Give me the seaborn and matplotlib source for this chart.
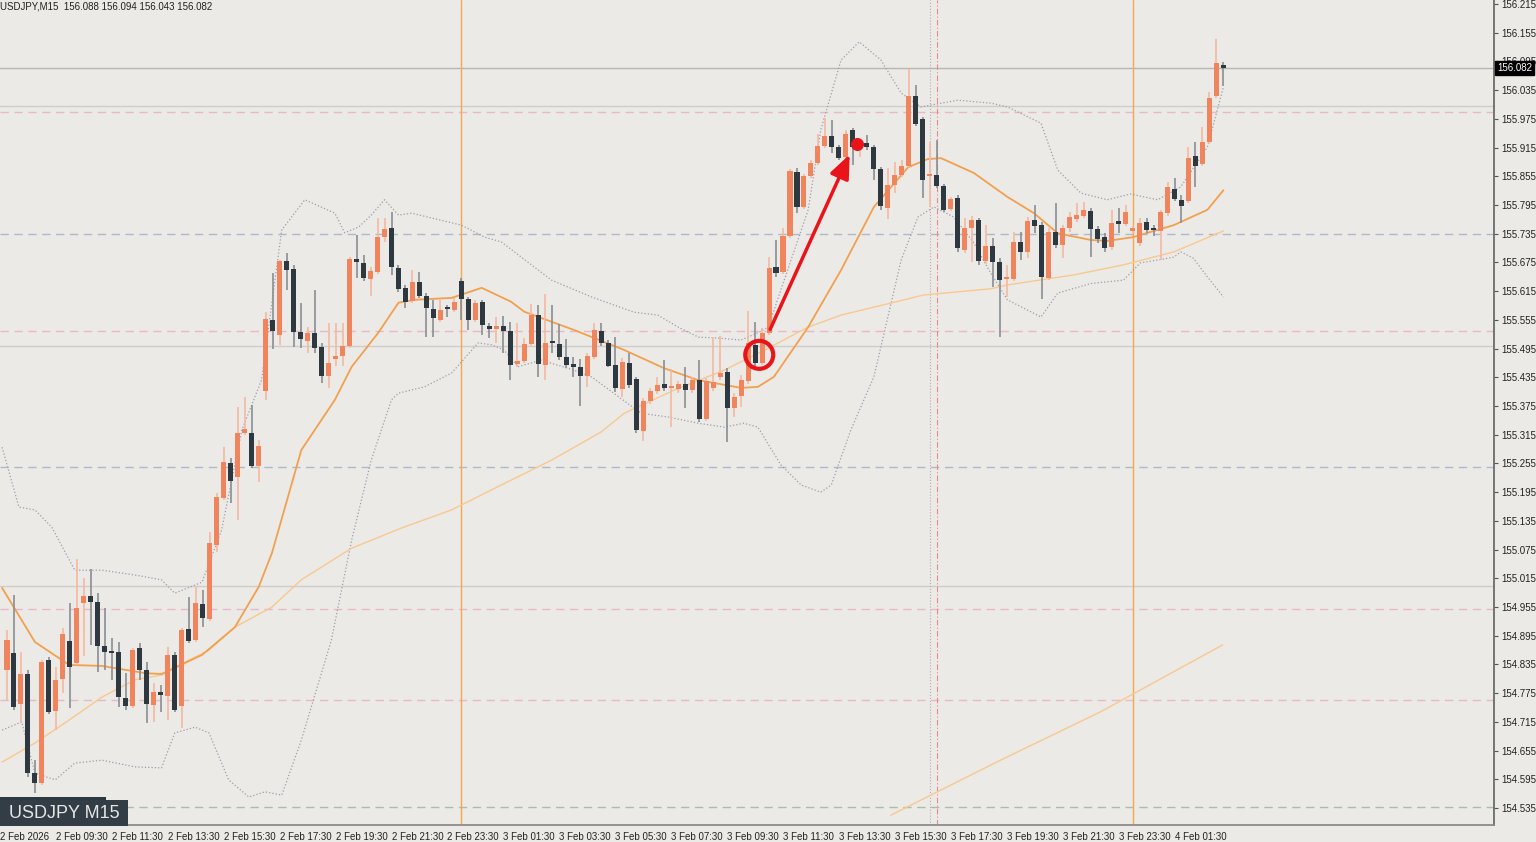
"""
USDJPY M15 candlestick chart with moving averages, Bollinger bands and levels.
"""

import numpy as np
import pandas as pd
import matplotlib
matplotlib.use("Agg")
import matplotlib.pyplot as plt
from matplotlib.patches import Ellipse, Rectangle
import seaborn as sns

# --- candles (index 0 = 2 Feb 07:45, 15 min each) ---
opens = [154.823, 154.859, 154.753, 154.815, 154.608, 154.587, 154.844, 154.738, 154.805, 154.884,
         154.838, 154.964, 154.978, 154.966, 154.873, 154.861, 154.861, 154.765, 154.748, 154.869,
         154.823, 154.750, 154.777, 154.769, 154.855, 154.748, 154.909, 154.886, 154.962, 154.930,
         155.085, 155.183, 155.256, 155.227, 155.319, 155.319, 155.250, 155.406, 155.555, 155.524,
         155.678, 155.661, 155.530, 155.511, 155.528, 155.498, 155.438, 155.473, 155.480, 155.500,
         155.682, 155.674, 155.640, 155.655, 155.728, 155.747, 155.663, 155.622, 155.595, 155.634,
         155.605, 155.578, 155.555, 155.578, 155.576, 155.636, 155.599, 155.555, 155.593, 155.542,
         155.536, 155.542, 155.532, 155.463, 155.469, 155.505, 155.565, 155.461, 155.507, 155.505,
         155.477, 155.463, 155.457, 155.438, 155.477, 155.532, 155.507, 155.461, 155.411, 155.465,
         155.431, 155.323, 155.386, 155.406, 155.421, 155.413, 155.411, 155.421, 155.408, 155.429,
         155.348, 155.413, 155.436, 155.446, 155.371, 155.396, 155.427, 155.503, 155.465, 155.528,
         155.665, 155.655, 155.730, 155.864, 155.791, 155.856, 155.883, 155.918, 155.939, 155.916,
         155.895, 155.952, 155.916, 155.925, 155.916, 155.870, 155.789, 155.837, 155.858, 155.877,
         156.023, 155.975, 155.856, 155.858, 155.835, 155.787, 155.810, 155.701, 155.747, 155.764,
         155.678, 155.709, 155.676, 155.640, 155.640, 155.718, 155.697, 155.764, 155.753, 155.643,
         155.739, 155.711, 155.747, 155.766, 155.772, 155.783, 155.745, 155.728, 155.707, 155.762,
         155.755, 155.741, 155.716, 155.759, 155.743, 155.741, 155.778, 155.828, 155.806, 155.803,
         155.897, 155.881, 155.927, 156.023, 156.088]
highs = [154.907, 154.980, 154.861, 154.823, 154.635, 154.844, 154.850, 154.830, 154.911, 154.964,
         155.055, 155.016, 155.035, 154.985, 154.953, 154.890, 154.882, 154.817, 154.869, 154.880,
         154.840, 154.796, 154.792, 154.871, 154.861, 154.911, 154.976, 154.997, 154.991, 155.112,
         155.193, 155.289, 155.267, 155.373, 155.394, 155.377, 155.304, 155.572, 155.653, 155.680,
         155.695, 155.670, 155.591, 155.540, 155.618, 155.507, 155.549, 155.549, 155.549, 155.686,
         155.732, 155.691, 155.665, 155.768, 155.768, 155.780, 155.670, 155.628, 155.659, 155.655,
         155.611, 155.597, 155.597, 155.586, 155.601, 155.643, 155.603, 155.597, 155.597, 155.549,
         155.561, 155.563, 155.551, 155.549, 155.517, 155.588, 155.586, 155.609, 155.586, 155.547,
         155.515, 155.477, 155.473, 155.486, 155.549, 155.549, 155.513, 155.519, 155.475, 155.486,
         155.436, 155.392, 155.413, 155.436, 155.471, 155.452, 155.427, 155.457, 155.436, 155.471,
         155.434, 155.519, 155.521, 155.454, 155.402, 155.440, 155.574, 155.551, 155.538, 155.686,
         155.722, 155.747, 155.870, 155.872, 155.860, 155.889, 155.943, 155.977, 155.973, 155.920,
         155.952, 155.956, 155.931, 155.941, 155.920, 155.874, 155.872, 155.885, 155.889, 156.079,
         156.046, 155.979, 155.927, 155.931, 155.839, 155.812, 155.816, 155.768, 155.772, 155.768,
         155.753, 155.726, 155.684, 155.670, 155.739, 155.739, 155.770, 155.795, 155.759, 155.747,
         155.799, 155.753, 155.780, 155.799, 155.801, 155.789, 155.751, 155.737, 155.785, 155.789,
         155.795, 155.751, 155.768, 155.768, 155.753, 155.785, 155.843, 155.851, 155.816, 155.916,
         155.927, 155.958, 156.031, 156.142, 156.094]
lows = [154.761, 154.740, 154.715, 154.600, 154.567, 154.583, 154.732, 154.698, 154.775, 154.744,
        154.834, 154.852, 154.876, 154.819, 154.823, 154.803, 154.746, 154.740, 154.744, 154.803,
        154.713, 154.715, 154.736, 154.719, 154.736, 154.702, 154.880, 154.882, 154.913, 154.926,
        155.070, 155.179, 155.173, 155.137, 155.315, 155.246, 155.217, 155.388, 155.494, 155.503,
        155.618, 155.498, 155.496, 155.486, 155.486, 155.423, 155.413, 155.459, 155.459, 155.496,
        155.643, 155.636, 155.605, 155.651, 155.718, 155.649, 155.613, 155.580, 155.591, 155.601,
        155.519, 155.519, 155.551, 155.561, 155.572, 155.555, 155.534, 155.551, 155.524, 155.517,
        155.507, 155.486, 155.429, 155.457, 155.465, 155.500, 155.436, 155.429, 155.486, 155.471,
        155.454, 155.436, 155.375, 155.415, 155.473, 155.500, 155.457, 155.404, 155.394, 155.413,
        155.319, 155.302, 155.379, 155.400, 155.406, 155.331, 155.402, 155.371, 155.402, 155.342,
        155.344, 155.406, 155.429, 155.300, 155.352, 155.373, 155.421, 155.450, 155.461, 155.524,
        155.645, 155.651, 155.726, 155.778, 155.787, 155.851, 155.879, 155.914, 155.904, 155.889,
        155.891, 155.879, 155.895, 155.910, 155.847, 155.785, 155.766, 155.820, 155.854, 155.872,
        155.960, 155.810, 155.791, 155.831, 155.780, 155.783, 155.697, 155.695, 155.676, 155.670,
        155.672, 155.624, 155.519, 155.603, 155.636, 155.680, 155.684, 155.737, 155.599, 155.638,
        155.705, 155.684, 155.739, 155.759, 155.768, 155.686, 155.716, 155.697, 155.701, 155.737,
        155.751, 155.737, 155.709, 155.737, 155.730, 155.680, 155.772, 155.803, 155.757, 155.799,
        155.833, 155.877, 155.922, 156.019, 156.043]
closes = [154.886, 154.746, 154.815, 154.608, 154.587, 154.840, 154.736, 154.803, 154.899, 154.830,
          154.953, 154.978, 154.966, 154.873, 154.861, 154.860, 154.767, 154.748, 154.865, 154.823,
          154.753, 154.777, 154.771, 154.855, 154.740, 154.907, 154.884, 154.964, 154.932, 155.089,
          155.185, 155.258, 155.219, 155.319, 155.327, 155.250, 155.292, 155.557, 155.532, 155.678,
          155.659, 155.530, 155.515, 155.528, 155.496, 155.438, 155.465, 155.480, 155.500, 155.682,
          155.676, 155.643, 155.657, 155.728, 155.745, 155.665, 155.620, 155.593, 155.634, 155.605,
          155.580, 155.559, 155.576, 155.577, 155.593, 155.599, 155.555, 155.591, 155.544, 155.536,
          155.542, 155.532, 155.461, 155.469, 155.505, 155.565, 155.463, 155.507, 155.506, 155.477,
          155.461, 155.457, 155.438, 155.480, 155.534, 155.507, 155.459, 155.413, 155.467, 155.419,
          155.325, 155.386, 155.406, 155.419, 155.413, 155.414, 155.421, 155.408, 155.429, 155.348,
          155.427, 155.425, 155.444, 155.371, 155.394, 155.429, 155.507, 155.465, 155.528, 155.663,
          155.653, 155.730, 155.866, 155.791, 155.856, 155.883, 155.918, 155.939, 155.916, 155.893,
          155.943, 155.916, 155.925, 155.916, 155.870, 155.793, 155.837, 155.858, 155.877, 156.023,
          155.964, 155.847, 155.857, 155.835, 155.785, 155.808, 155.705, 155.747, 155.764, 155.678,
          155.709, 155.676, 155.638, 155.641, 155.718, 155.697, 155.762, 155.751, 155.645, 155.739,
          155.711, 155.747, 155.770, 155.774, 155.785, 155.745, 155.724, 155.705, 155.757, 155.755,
          155.780, 155.747, 155.757, 155.743, 155.742, 155.780, 155.833, 155.808, 155.793, 155.893,
          155.877, 155.927, 156.019, 156.092, 156.082]

# --- indicator lines (candle index, price) ---
ma_fast_x = [-0.7, 4, 8.9, 13.6, 19.7, 22.1, 27.9, 32.6, 36, 37.9, 42.1, 46.9, 49.3, 53.1, 56, 58.3,
             63.6, 67.9, 72.1, 74, 81.1, 88.3, 94, 98.9, 105, 107.4, 109.7, 114.6, 119.3, 124,
             128.9, 131.7, 133.6, 138.3, 143.1, 146.9, 150.3, 155, 157.4, 161.1, 166.9, 171.7, 174]
ma_fast_y = [154.995, 154.882, 154.834, 154.832, 154.817, 154.815, 154.855, 154.913, 154.997, 155.068,
             155.283, 155.388, 155.457, 155.528, 155.591, 155.597, 155.601, 155.622, 155.593, 155.572,
             155.534, 155.492, 155.454, 155.429, 155.413, 155.415, 155.436, 155.540, 155.659, 155.791,
             155.874, 155.891, 155.893, 155.862, 155.812, 155.778, 155.736, 155.722, 155.720, 155.728,
             155.753, 155.785, 155.826]
ma_slow_x = [-0.7, 4, 8.9, 13.6, 18.3, 22.1, 26, 28.9, 32.6, 37.9, 42.1, 49.3, 56.4, 63.6, 70.7,
             77.9, 85, 88.3, 95.4, 102.6, 108.9, 114.6, 119.3, 126.4, 131.1, 140.7, 143.1, 152.6,
             159.7, 166.9, 174]
ma_slow_y = [154.631, 154.671, 154.719, 154.767, 154.803, 154.813, 154.844, 154.865, 154.913, 154.955,
             155.012, 155.078, 155.120, 155.158, 155.210, 155.262, 155.321, 155.360, 155.408, 155.450,
             155.496, 155.540, 155.565, 155.590, 155.607, 155.620, 155.628, 155.649, 155.670, 155.697,
             155.741]
ma_long_x = [126.4, 142.1, 156.4, 173.9]
ma_long_y = [154.520, 154.635, 154.736, 154.876]
bb_up_x = [-0.7, 1.7, 4, 6.4, 9.7, 13.6, 18.3, 22.1, 24, 27.9, 30.7, 33.6, 36.4, 39.3, 42.6, 46.9,
           48.3, 50.3, 52.1, 54, 56, 57.9, 60.7, 65, 68.3, 70.7, 77.9, 83.6, 89.7, 93.1, 96, 98.9,
           101.7, 105, 107.4, 108.9, 110.7, 114.6, 116.4, 119.3, 121.9, 125, 127.9, 130.7, 136,
           140.7, 143.1, 147.9, 150.3, 153.6, 157.4, 160.7, 164.6, 167.9, 171.7, 174]
bb_up_y = [155.289, 155.164, 155.158, 155.122, 155.032, 155.032, 155.022, 155.012, 154.984, 155.007,
           155.116, 155.325, 155.429, 155.743, 155.806, 155.778, 155.737, 155.749, 155.774, 155.806,
           155.774, 155.778, 155.768, 155.753, 155.728, 155.718, 155.638, 155.603, 155.571, 155.565,
           155.540, 155.519, 155.517, 155.513, 155.528, 155.540, 155.618, 155.785, 155.952, 156.098,
           156.136, 156.098, 156.029, 156.000, 156.014, 156.008, 156.000, 155.966, 155.868, 155.820,
           155.806, 155.818, 155.806, 155.833, 155.916, 156.042]
bb_lo_x = [-0.7, 2.1, 4, 6.9, 9.7, 13.6, 18.3, 22.1, 24, 26.9, 28.9, 31.7, 34.6, 36.9, 39.3, 42.1,
           46.4, 49.3, 52.1, 55, 56, 59.7, 63.6, 67.4, 69.3, 71.1, 73.1, 76.4, 81.1, 83.6, 90.7,
           94.6, 98.9, 102.6, 105.4, 107.4, 110.7, 113.6, 116.4, 117.9, 120.7, 124, 127.9, 130.3,
           132.6, 135.4, 138.3, 140.7, 143.1, 147.9, 150.3, 155, 159.7, 162.1, 166.9, 167.9, 169.7,
           171.7, 174]
bb_lo_y = [154.698, 154.715, 154.608, 154.594, 154.629, 154.635, 154.621, 154.619, 154.692, 154.704,
           154.692, 154.594, 154.558, 154.569, 154.562, 154.677, 154.886, 155.095, 155.262, 155.388,
           155.402, 155.415, 155.444, 155.507, 155.503, 155.492, 155.457, 155.471, 155.450, 155.436,
           155.360, 155.352, 155.339, 155.331, 155.339, 155.331, 155.252, 155.210, 155.195, 155.210,
           155.325, 155.436, 155.680, 155.770, 155.791, 155.770, 155.716, 155.653, 155.597, 155.561,
           155.611, 155.631, 155.638, 155.674, 155.686, 155.697, 155.684, 155.645, 155.603]

# --- horizontal levels ---
pink_levels = [155.989, 155.532, 154.951, 154.761]
blue_levels = [155.734, 155.248]
green_levels = [154.537]
gray_levels = [156.002, 155.500, 154.999]
last_price = 156.082

price_ticks = [156.215, 156.155, 156.095, 156.035, 155.975, 155.915, 155.855, 155.795, 155.735,
               155.675, 155.615, 155.555, 155.495, 155.435, 155.375, 155.315, 155.255, 155.195,
               155.135, 155.075, 155.015, 154.955, 154.895, 154.835, 154.775, 154.715, 154.655,
               154.595, 154.535]
time_tick_idx = [-1, 7, 15, 23, 31, 39, 47, 55, 63, 71, 79, 87, 95, 103, 111, 119, 127, 135, 143,
                 151, 159, 167]
time_labels = ["2 Feb 2026", "2 Feb 09:30", "2 Feb 11:30", "2 Feb 13:30", "2 Feb 15:30",
               "2 Feb 17:30", "2 Feb 19:30", "2 Feb 21:30", "2 Feb 23:30", "3 Feb 01:30",
               "3 Feb 03:30", "3 Feb 05:30", "3 Feb 07:30", "3 Feb 09:30", "3 Feb 11:30",
               "3 Feb 13:30", "3 Feb 15:30", "3 Feb 17:30", "3 Feb 19:30", "3 Feb 21:30",
               "3 Feb 23:30", "4 Feb 01:30"]
day_separators = [65, 161]

BG = "#ECEAE6"
BULL = "#F0845C"
BEAR = "#2E3841"
TICK_FONT = ["Liberation Sans", "DejaVu Sans"]

sns.set_theme(style="white")
plt.rcParams["font.family"] = ["Liberation Sans", "DejaVu Sans"]

df = pd.DataFrame({"open": opens, "high": highs, "low": lows, "close": closes})
df["idx"] = np.arange(len(df))
df["bull"] = df["close"] >= df["open"]

fig = plt.figure(figsize=(15.36, 8.42), dpi=100, facecolor=BG)
ax = fig.add_axes([0, 17 / 842, 1494 / 1536, 825 / 842])
ax.set_facecolor(BG)

# levels
for lv in pink_levels:
    ax.axhline(lv, color="#E8B8C8", lw=1, ls=(0, (6, 4)), zorder=1)
for lv in blue_levels:
    ax.axhline(lv, color="#AEB8CC", lw=1, ls=(0, (6, 4)), zorder=1)
for lv in green_levels:
    ax.axhline(lv, color="#A9BDA9", lw=1, ls=(0, (6, 4)), zorder=1)
for lv in gray_levels:
    ax.axhline(lv, color="#CFCDCA", lw=1, zorder=1)
ax.axhline(last_price, color="#B8B6B3", lw=1, zorder=1)
for d in day_separators:
    ax.axvline(d, color="#F5A84A", lw=1, zorder=1)
ax.axvline(132, color="#B0AEB4", lw=0.8, ls=":", zorder=1)
ax.axvline(133, color="#E88A8A", lw=0.8, ls=(0, (5, 2, 1, 2)), zorder=1)

# indicators
sns.lineplot(x=bb_up_x, y=bb_up_y, ax=ax, color="#9C9CAE", lw=0.9, ls=":", sort=False, estimator=None, zorder=2)
sns.lineplot(x=bb_lo_x, y=bb_lo_y, ax=ax, color="#9C9CAE", lw=0.9, ls=":", sort=False, estimator=None, zorder=2)
sns.lineplot(x=ma_slow_x, y=ma_slow_y, ax=ax, color="#F8C890", lw=1.0, sort=False, estimator=None, zorder=2)
sns.lineplot(x=ma_long_x, y=ma_long_y, ax=ax, color="#F8C890", lw=1.0, sort=False, estimator=None, zorder=2)
sns.lineplot(x=ma_fast_x, y=ma_fast_y, ax=ax, color="#F2A04E", lw=1.3, sort=False, estimator=None, zorder=2)

# candles
for bull, col, wick in [(True, BULL, "#F4B8A0"), (False, BEAR, "#8A8E92")]:
    sub = df[df["bull"] == bull]
    ax.vlines(sub["idx"], sub["low"], sub["high"], color=wick, lw=1.2, zorder=3)
    bottom = sub[["open", "close"]].min(axis=1)
    height = (sub["close"] - sub["open"]).abs().clip(lower=0.004)
    ax.bar(sub["idx"], height, bottom=bottom, width=0.72, color=col, lw=0, zorder=4)

# annotations
ax.add_patch(Ellipse((107.6, 155.482), 4.0, 0.0585, fill=False, ec="#E8141A", lw=3, zorder=6))
ax.annotate("", xy=(120.7, 155.906), xytext=(109, 155.530),
            arrowprops=dict(arrowstyle="-|>,head_width=0.5,head_length=1.2", color="#E8141A", lw=2.5),
            zorder=6)
ax.scatter([121.6], [155.923], s=70, color="#E8141A", zorder=6)

ax.set_xlim(-0.714, 212.7)
ax.set_ylim(156.2234 - 825 / 478.6, 156.2234)

ax.yaxis.tick_right()
ax.set_yticks(price_ticks)
ax.set_yticklabels([f"{v:.3f}" for v in price_ticks], fontsize=7, color="#222222")
ax.set_xticks(time_tick_idx)
ax.set_xticklabels(time_labels, fontsize=7, color="#222222", ha="left")
ax.tick_params(axis="both", length=3, width=0.8, color="#555555", pad=2, direction="out")
for s in ["top", "left"]:
    ax.spines[s].set_visible(False)
ax.spines["right"].set_color("#666666")
ax.spines["bottom"].set_color("#888888")

ax.text(1.002, last_price, "156.082", transform=ax.get_yaxis_transform(), fontsize=7, color="white",
        va="center", ha="left", zorder=10, clip_on=False,
        bbox=dict(boxstyle="square,pad=0.2", fc="black", ec="black"))

# labels
fig.text(0.0, 0.9985, "USDJPY,M15  156.088 156.094 156.043 156.082", fontsize=7, va="top", ha="left",
         color="#222222")
fig.patches.append(Rectangle((0, 1 - 800 / 842), 106 / 1536, 3 / 842, transform=fig.transFigure,
                             fc="#2E3841", ec="none"))
fig.patches.append(Rectangle((0, 1 - 826 / 842), 128 / 1536, 26 / 842, transform=fig.transFigure,
                             fc="#333D46", ec="none"))
fig.text(64 / 1536, 1 - 813 / 842, "USDJPY M15", fontsize=13, color="#E6E6E6", ha="center", va="center")

fig.savefig("out.png", dpi=100, facecolor=BG)
